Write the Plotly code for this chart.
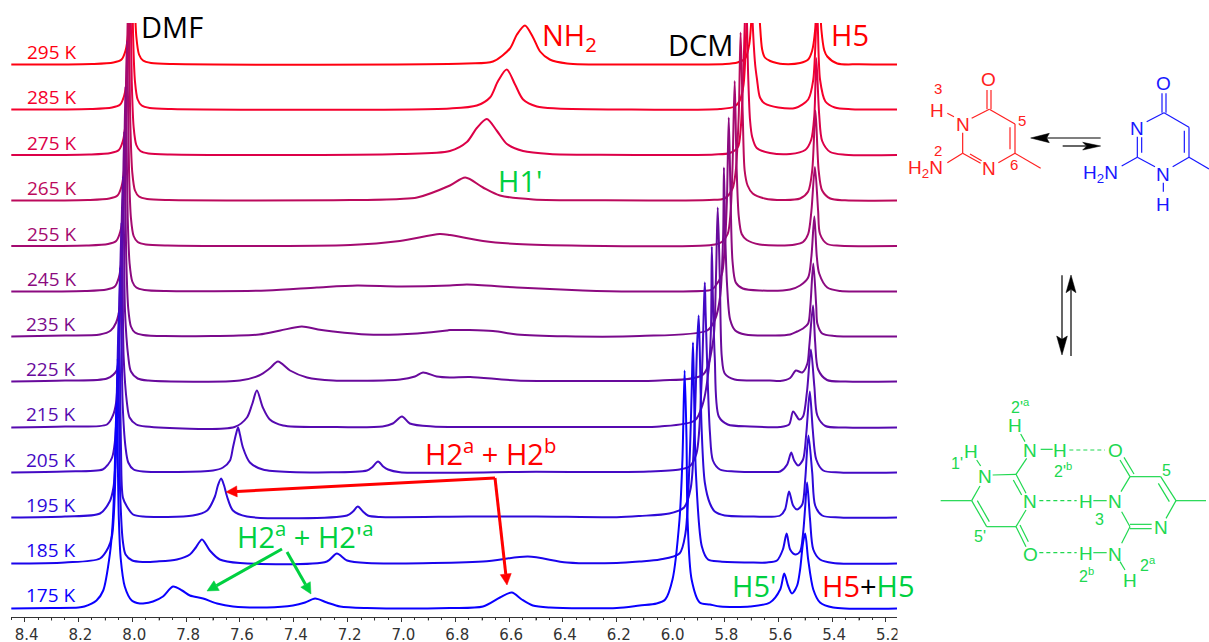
import math
import plotly.graph_objects as go

temps = [295, 285, 275, 265, 255, 245, 235, 225, 215, 205, 195, 185, 175]
offsets = [552, 507, 461.5, 416, 370.5, 325, 280, 235, 189, 144, 99, 53, 8]
colors = ["#ff0010", "#f5002c", "#dc0048", "#bc0a5c", "#a40a70", "#8c0a80", "#7a0a8c", "#680a9c",
          "#560ab0", "#440ac4", "#2e0ad8", "#1a04ec", "#0a00ff"]
x_ticks = [8.4, 8.2, 8.0, 7.8, 7.6, 7.4, 7.2, 7.0, 6.8, 6.6, 6.4, 6.2, 6.0, 5.8, 5.6, 5.4, 5.2]
x_tick_labels = ["8.4", "8.2", "8.0", "7.8", "7.6", "7.4", "7.2", "7.0", "6.8", "6.6", "6.4", "6.2", "6.0", "5.8", "5.6", "5.4", "5.2"]
x_mid_ticks = [8.3, 8.1, 7.9, 7.7, 7.5, 7.3, 7.1, 6.9, 6.7, 6.5, 6.3, 6.1, 5.9, 5.7, 5.5, 5.3]

s295 = [(8.45,0),(8.15,.5),(8.07,2),(8.04,5),(8.025,14),(8.015,32),(8.008,80),(8.004,150),(8.0,205),(7.996,150),(7.992,74),(7.985,28),(7.975,10),(7.96,4),(7.93,1.5),(7.85,.4),
        (6.757,1),(6.66,3),(6.597,16),(6.571,30),(6.541,39),(6.511,27),(6.485,13),(6.449,5),(6.385,1),(6.116,0),
        (5.797,.5),(5.752,2),(5.723,6),(5.708,20),(5.697,60),(5.684,165),(5.675,80),(5.668,40),(5.66,15),(5.65,7),(5.63,3.5),(5.606,1.5),(5.583,.5),
        (5.519,1.5),(5.489,5),(5.474,14),(5.463,35),(5.451,100),(5.44,35),(5.429,14),(5.418,8),(5.381,1),(5.3,.2),(5.159,0)]
s285 = [(8.45,0),(8.155,.5),(8.075,2),(8.045,5),(8.03,14),(8.02,32),(8.013,80),(8.009,150),(8.005,205),(8.001,150),(7.997,74),(7.99,28),(7.98,10),(7.965,4),(7.935,1.5),(7.855,.4),
        (6.82,1),(6.72,4),(6.671,12),(6.642,28),(6.609,40),(6.578,25),(6.548,10),(6.497,3),(6.422,1),(6.188,0),
        (5.817,.5),(5.762,3),(5.743,9),(5.729,25),(5.718,85),(5.705,165),(5.695,85),(5.686,45),(5.679,30),(5.668,12),(5.65,6),(5.6,2),
        (5.537,1.5),(5.489,10),(5.47,30),(5.456,100),(5.445,30),(5.425,8),(5.39,2),(5.33,.3),(5.159,0)]
s275 = [(8.45,0),(8.16,.5),(8.08,2),(8.05,5),(8.035,14),(8.025,32),(8.018,80),(8.014,150),(8.01,205),(8.006,150),(8.002,74),(7.995,28),(7.985,10),(7.97,4),(7.94,1.5),(7.86,.4),
        (7.006,1),(6.82,4),(6.757,13),(6.72,27),(6.683,36),(6.645,24),(6.608,11),(6.548,4),(6.449,1),(6.26,.2),
        (5.836,.5),(5.78,2),(5.75,8),(5.74,25),(5.73,80),(5.72,165),(5.712,80),(5.705,35),(5.697,18),(5.68,7),(5.631,2),(5.556,1),
        (5.5,5),(5.478,15),(5.466,40),(5.459,97),(5.448,40),(5.437,14),(5.407,3),(5.352,.3),(5.159,0)]
s265 = [(8.45,0),(8.165,.5),(8.085,2),(8.055,5),(8.04,14),(8.03,32),(8.023,80),(8.019,150),(8.015,205),(8.011,150),(8.007,74),(8.0,28),(7.99,10),(7.975,4),(7.945,1.5),(7.865,.4),
        (7.19,.4),(7.006,1.5),(6.942,3),(6.82,15),(6.763,23),(6.697,13),(6.634,5),(6.51,1),(6.26,.2),
        (5.856,.5),(5.8,2),(5.77,12),(5.758,30),(5.747,85),(5.74,168),(5.732,85),(5.725,30),(5.714,15),(5.695,7),(5.651,2),(5.577,.5),
        (5.519,2),(5.489,9),(5.474,30),(5.462,90),(5.45,30),(5.437,10),(5.407,2),(5.352,.2),(5.159,0)]
s255 = [(8.45,0),(8.17,.5),(8.09,2),(8.06,5),(8.045,14),(8.035,32),(8.028,80),(8.024,150),(8.02,205),(8.016,150),(8.012,74),(8.005,28),(7.995,10),(7.98,4),(7.95,1.5),(7.87,.4),
        (7.19,1),(7.006,5),(6.858,12),(6.82,11),(6.697,5),(6.571,2),(6.326,.3),
        (5.89,.3),(5.835,1.5),(5.81,4),(5.788,12),(5.777,35),(5.77,80),(5.762,165),(5.755,80),(5.747,30),(5.736,12),(5.717,6),(5.669,1.5),(5.595,.5),
        (5.537,1.5),(5.508,4),(5.489,12),(5.477,35),(5.464,79),(5.452,35),(5.445,12),(5.418,2),(5.37,.3),(5.159,0)]
s245 = [(8.45,0),(8.175,.5),(8.095,2),(8.065,5),(8.05,14),(8.04,32),(8.033,80),(8.029,150),(8.025,205),(8.021,150),(8.017,74),(8.01,28),(8.0,10),(7.985,4),(7.955,1.5),(7.875,.4),
        (7.5,1),(7.314,4),(7.165,6),(7.006,5),(6.82,6),(6.757,7),(6.571,4),(6.326,1),(6.14,0),
        (5.86,1),(5.847,2),(5.835,5),(5.81,17),(5.8,40),(5.791,90),(5.784,174),(5.777,90),(5.77,30),(5.758,9),(5.732,3),(5.668,1),
        (5.556,2),(5.519,6),(5.489,14),(5.477,35),(5.466,75),(5.457,35),(5.448,18),(5.418,4),(5.37,.5),(5.3,0),(5.159,0)]
s235 = [(8.45,0),(8.25,1),(8.12,2),(8.08,6),(8.06,14),(8.045,32),(8.038,80),(8.034,150),(8.03,205),(8.026,150),(8.022,74),(8.015,28),(8.005,10),(7.99,4),(7.96,1.5),(7.88,.4),
        (7.529,2),(7.45,6),(7.37,10),(7.31,7),(7.254,5),(7.128,2),(6.942,3),(6.831,6),(6.82,6.5),(6.66,5.5),(6.571,2),(6.39,.2),(6.115,.5),
        (5.864,6),(5.835,17),(5.816,40),(5.805,100),(5.802,169),(5.797,100),(5.79,50),(5.779,17),(5.76,6),(5.723,2),(5.612,1),
        (5.556,2),(5.53,5),(5.508,8),(5.489,13),(5.481,30),(5.47,73),(5.459,30),(5.455,13),(5.437,3),(5.39,.5),(5.33,0),(5.159,0)]
s225 = [(8.45,0),(8.25,1),(8.094,3),(8.058,11),(8.05,30),(8.045,80),(8.04,150),(8.035,205),(8.031,150),(8.027,70),(8.015,25),(8.005,10),(7.98,3),(7.94,1),
        (7.6,1),(7.529,6),(7.49,13),(7.459,20),(7.414,11),(7.351,4),(7.254,1),(7.005,2),(6.95,5),(6.92,9),(6.869,5),(6.82,4),(6.745,4.5),(6.571,1),(6.26,.5),(6.04,1),
        (5.879,7),(5.842,41),(5.832,100),(5.825,174),(5.817,100),(5.81,25),(5.799,8),(5.762,2),(5.631,1),(5.593,.5),
        (5.556,3.5),(5.535,11),(5.511,9),(5.492,18),(5.485,35),(5.471,76),(5.463,39),(5.452,12),(5.419,1.5),(5.35,0),(5.159,0)]
s215 = [(8.45,0),(8.25,1),(8.094,3),(8.072,12),(8.06,25),(8.05,80),(8.045,150),(8.04,205),(8.036,150),(8.032,70),(8.02,25),(8.01,10),(7.985,3),(7.95,1),
        (7.62,.5),(7.574,10),(7.555,23),(7.537,37),(7.515,20),(7.489,8),(7.44,2),(7.265,.5),(7.07,1),(7.032,4),(6.998,11),(6.969,4),(6.883,1),(6.5,.6),(6.2,.6),(6.04,1),
        (5.91,7),(5.88,24),(5.858,60),(5.85,100),(5.847,181),(5.843,130),(5.836,70),(5.821,11),(5.788,3),(5.705,1),(5.593,.5),
        (5.56,3),(5.545,16),(5.522,8),(5.508,11),(5.493,37),(5.479,78),(5.466,41),(5.455,12),(5.425,1.5),(5.35,0),(5.159,0)]
s205 = [(8.45,0),(8.25,1),(8.11,3),(8.09,8),(8.075,15),(8.065,30),(8.055,80),(8.05,150),(8.045,205),(8.04,150),(8.036,70),(8.025,25),(8.015,10),(7.995,3),(7.96,1),
        (7.7,2),(7.663,5),(7.637,12),(7.626,25),(7.615,38),(7.607,45),(7.6,38),(7.589,25),(7.563,10),(7.515,3),(7.414,.5),(7.128,2),(7.11,5),(7.087,11),(7.068,6),(7.05,3),(7.005,.3),
        (6.5,.7),(6.2,.5),(6.08,1),(5.967,3),(5.93,6),(5.904,19),(5.885,90),(5.877,160),(5.873,190),(5.87,160),(5.862,90),(5.854,40),(5.843,12),(5.817,3),(5.762,1),(5.631,.5),
        (5.593,1),(5.567,8),(5.552,20),(5.541,12),(5.526,7),(5.508,13),(5.496,39),(5.483,81),(5.472,43),(5.459,13),(5.433,2),(5.37,0),(5.159,0)]
s195 = [(8.45,0),(8.25,1),(8.12,4),(8.084,16),(8.07,30),(8.06,70),(8.055,150),(8.05,205),(8.046,150),(8.042,70),(8.035,20),(8.02,11),(7.997,3),(7.96,1),
        (7.775,2),(7.722,7),(7.693,21),(7.682,32),(7.67,39),(7.659,32),(7.648,21),(7.626,7),(7.574,1),(7.202,2),(7.18,6),(7.162,11),(7.143,6),(7.125,2),(7.08,.5),
        (6.75,1),(6.5,1),(6.2,.3),(6.115,1.5),(6.005,4),(5.95,10),(5.925,30),(5.91,100),(5.902,170),(5.896,202),(5.892,170),(5.885,90),(5.873,35),(5.854,14),(5.836,6),(5.799,2),(5.705,1),(5.631,.7),
        (5.593,2),(5.575,8),(5.56,26),(5.545,12),(5.53,8),(5.511,13),(5.5,38),(5.488,82),(5.474,45),(5.463,12),(5.437,2),(5.37,0),(5.159,0)]
s185 = [(8.45,0),(8.25,1),(8.12,5),(8.089,16),(8.075,28),(8.065,70),(8.059,150),(8.054,205),(8.05,160),(8.045,70),(8.035,22),(8.025,9),(8.0,3),(7.96,1.5),
        (7.908,2),(7.834,4),(7.786,9),(7.764,16),(7.741,24),(7.712,13),(7.675,4),(7.6,.5),(7.277,2),(7.24,10),(7.202,3),(7.128,.5),
        (6.697,2),(6.53,7),(6.385,1),(6.2,.5),(6.115,2),(6.04,4),(5.967,10),(5.945,30),(5.93,100),(5.922,170),(5.917,221),(5.913,170),(5.906,90),(5.884,17),(5.861,4),(5.816,2),(5.705,1),(5.642,1),
        (5.605,3),(5.583,14),(5.569,30),(5.556,14),(5.537,9),(5.519,12),(5.508,30),(5.5,57),(5.493,81),(5.482,44),(5.47,14),(5.445,4),(5.396,.5),(5.159,0)]
s175 = [(8.45,0),(8.3,.5),(8.2,1),(8.178,2),(8.133,8),(8.108,18),(8.083,55),(8.073,85),(8.066,130),(8.062,175),(8.058,206),(8.054,150),(8.05,90),(8.043,50),(8.028,22),(8.002,8),(7.972,5),
        (7.96,5),(7.923,7),(7.886,12),(7.849,22),(7.815,18),(7.786,13),(7.737,10),(7.685,5),(7.626,2),(7.5,1),(7.403,3),(7.358,6),(7.321,10),(7.277,6),(7.228,2),(7.128,.5),(6.82,.5),
        (6.697,2),(6.634,11),(6.59,16),(6.553,9),(6.512,3),(6.449,1),(6.2,.5),(6.115,3),(6.052,5),(6.02,9),(5.993,29),(5.967,89),(5.956,150),(5.948,238),(5.941,170),(5.937,89),(5.922,29),(5.892,6),(5.854,4),(5.816,2),(5.705,2),
        (5.631,6),(5.593,19),(5.578,35),(5.564,23),(5.549,15),(5.53,23),(5.519,39),(5.508,66),(5.5,75),(5.489,49),(5.47,19),(5.445,6),(5.396,1),(5.159,0)]
spectra = [s295, s285, s275, s265, s255, s245, s235, s225, s215, s205, s195, s185, s175]

W, H = 1209, 642
X = lambda px: px / W
Y = lambda py: 1 - py / H

fig = go.Figure()
for t, off, col, sp in zip(temps, offsets, colors, spectra):
    fig.add_trace(go.Scatter(x=[p[0] for p in sp], y=[p[1] + off for p in sp], mode="lines",
                             name=f"{t} K", line=dict(color=col, width=2, shape="spline", smoothing=0.8)))

shapes, ann = [], []

def text(px, py, s, color, size, font="Open Sans", xanchor="center"):
    ann.append(dict(xref="paper", yref="paper", x=X(px), y=Y(py), text=s, showarrow=False,
                    xanchor=xanchor, yanchor="middle", font=dict(family=font, size=size, color=color)))

def poly(pts, col):
    path = "M " + " L ".join(f"{X(a)} {Y(b)}" for a, b in pts) + " Z"
    shapes.append(dict(type="path", xref="paper", yref="paper", path=path, fillcolor=col, line=dict(color=col, width=0.5)))

def arrow(x0, y0, x1, y1, color, width, hl=11, hw=5.5):
    d = math.hypot(x1 - x0, y1 - y0)
    ux, uy = (x1 - x0) / d, (y1 - y0) / d
    bx, by = x1 - ux * hl, y1 - uy * hl
    shapes.append(dict(type="line", xref="paper", yref="paper", x0=X(x0), y0=Y(y0), x1=X(bx), y1=Y(by),
                       line=dict(color=color, width=width)))
    poly([(x1, y1), (bx - uy * hw, by + ux * hw), (bx + uy * hw, by - ux * hw)], color)

# temperature labels
label_y = [52, 97, 143, 188, 234, 279, 324, 369, 414, 460, 505, 550, 595]
for t, col, ly in zip(temps, colors, label_y):
    text(25 if t >= 245 else 24, ly, f"{t} K", col, 19, xanchor="left")

RED, GRN, BLU = "#ff0000", "#00d040", "#0000ff"
text(172, 27, "DMF", "#000000", 29)
text(569, 36, "NH<sub>2</sub>", RED, 29)
text(700, 45, "DCM", "#000000", 29)
text(850, 34, "H5", RED, 29)
text(520, 180, "H1'", GRN, 29)
text(490, 452, "H2<sup>a</sup> + H2<sup>b</sup>", RED, 29)
text(305, 535, "H2<sup>a</sup> + H2'<sup>a</sup>", GRN, 29)
text(754, 585, "H5'", GRN, 29)
text(868, 585, f'<span style="color:{RED}">H5</span><span style="color:#000000">+</span><span style="color:{GRN}">H5</span>', RED, 29)

arrow(495, 478, 226, 492, RED, 3)
arrow(495, 478, 507, 585, RED, 3)
arrow(282, 549, 207, 591, GRN, 3)
arrow(287, 552, 311, 594, GRN, 3)

# chemical structures, pixel positions on a 3x grid inside each panel
def panel(ox, oy):
    def seg(pts, col, w=1.2, dash=None):
        x0, y0, x1, y1 = pts
        shapes.append(dict(type="line", xref="paper", yref="paper", x0=X(ox + x0 / 3), y0=Y(oy + y0 / 3),
                           x1=X(ox + x1 / 3), y1=Y(oy + y1 / 3), line=dict(color=col, width=w, dash=dash or "solid")))
    def tx(x, y, s, col, size=19):
        text(ox + x / 3, oy + y / 3, s, col, size, font="Liberation Sans")
    def head(pts, col):
        poly([(ox + a / 3, oy + b / 3) for a, b in pts], col)
    return seg, tx, head

seg, tx, head = panel(890, 50)
R = "#ff2020"
for b in [(291,120,291,178),(303,120,303,178),(298,178,245,205),(218,248,218,310),(218,310,272,340),(240,312,275,332),
          (325,338,375,310),(375,222,375,310),(360,232,360,298),(375,222,298,178),(172,190,192,200),(218,310,172,338),(375,310,452,355)]:
    seg(b, R)
for a in [(296,88,"O"),(218,222,"N"),(296,355,"N"),(140,180,"H")]:
    tx(a[0], a[1], a[2], R)
tx(105, 358, "H<sub>2</sub>N", R)
for a in [(143,115,"3"),(143,300,"2"),(397,213,"5"),(372,345,"6")]:
    tx(a[0], a[1], a[2], R, 15)
B = "#1818ff"
for b in [(816,130,816,188),(828,130,828,188),(822,188,770,215),(742,260,742,322),(755,262,755,308),(742,322,795,350),
          (848,350,897,322),(897,232,897,322),(883,242,883,308),(897,232,822,188),(820,398,820,425),(742,322,695,348),(897,322,957,357)]:
    seg(b, B)
for a in [(820,100,"O"),(742,235,"N"),(820,375,"N"),(820,462,"H")]:
    tx(a[0], a[1], a[2], B)
tx(630, 372, "H<sub>2</sub>N", B)
K = "#000000"
seg((632,264,470,264), K); seg((518,288,590,288), K)
head([(422,264),(478,250),(470,264),(478,278)], K)
head([(632,288),(578,277),(590,288),(578,300)], K)

seg, tx, head = panel(920, 260)
seg((426,46,426,240), K); seg((453,288,453,88), K)
head([(426,285),(410,228),(426,238),(442,228)], K)
head([(453,45),(438,98),(453,88),(468,98)], K)
G = "#20d850"
for b in [(218,645,288,643),(288,643,318,700),(280,660,305,705),(288,643,320,595),(302,522,315,545),(362,568,398,568),
          (170,600,182,618),(180,678,155,722),(155,722,200,800),(172,722,208,785),(200,800,288,800),(288,800,318,750),
          (288,800,318,860),(300,795,325,845),(62,722,155,722),(520,722,560,722),(603,695,630,650),(630,650,722,650),
          (722,650,768,722),(715,670,748,725),(768,722,738,775),(695,793,630,793),(695,806,630,806),(630,800,605,755),
          (630,800,605,850),(520,878,560,878),(600,905,615,930),(768,722,858,722),(630,650,600,600),(642,642,612,592)]:
    seg(b, G)
for b in [(448,570,555,570),(358,722,470,722),(358,878,470,878)]:
    seg(b, G, dash="4px,3px")
for a in [(195,650,"N"),(330,570,"N"),(330,725,"N"),(285,495,"H"),(420,572,"H"),(152,575,"H"),(585,572,"O"),(497,725,"H"),
          (585,725,"N"),(722,802,"N"),(585,882,"N"),(497,880,"H"),(330,882,"O"),(630,962,"H")]:
    tx(a[0], a[1], a[2], G)
for a in [(300,438,"2'<sup>a</sup>"),(430,630,"2'<sup>b</sup>"),(110,610,"1'"),(180,828,"5'"),(538,778,"3"),(685,912,"2<sup>a</sup>"),
          (500,945,"2<sup>b</sup>"),(738,630,"5")]:
    tx(a[0], a[1], a[2], G, 16)

# mid-scale ticks between the labelled ones
for v in x_mid_ticks:
    shapes.append(dict(type="line", xref="x", yref="paper", x0=v, x1=v, y0=Y(617), y1=Y(620.5),
                       line=dict(color="#333333", width=1)))

# the last tick label is cut at the right end of the spectrum
shapes.append(dict(type="rect", xref="paper", yref="paper", x0=X(897.5), x1=X(925), y0=Y(642), y1=Y(621),
                   fillcolor="white", line=dict(width=0)))

fig.update_layout(
    width=W, height=H, autosize=False, margin=dict(l=0, r=0, t=0, b=0), paper_bgcolor="white", plot_bgcolor="white",
    showlegend=False, shapes=shapes, annotations=ann,
    xaxis=dict(domain=[11.16 / W, 897 / W], range=[8.45, 5.159], showgrid=False, zeroline=False, showline=True, automargin=False,
               linecolor="#333333", linewidth=1, ticks="outside", ticklen=4, tickcolor="#333333", tickwidth=1,
               tickmode="array", tickvals=x_ticks, ticktext=x_tick_labels, ticklabelshift=-2,
               tickangle=0, tickfont=dict(family="DejaVu Sans", size=15, color="#333333"),
               minor=dict(tickmode="linear", dtick=0.05, tick0=5.2, ticks="outside", ticklen=2, tickcolor="#333333", showgrid=False)),
    yaxis=dict(domain=[1 - 616.5 / H, 1 - 23 / H], range=[0, 593.5], visible=False, automargin=False),
)
fig.write_html("out.html", config=dict(displayModeBar=False),
               post_script="document.documentElement.style.cssText='margin:0;padding:0;overflow:hidden;height:642px';"
                           "document.body.style.cssText='margin:0;padding:0;overflow:hidden;height:642px;width:1209px';")
